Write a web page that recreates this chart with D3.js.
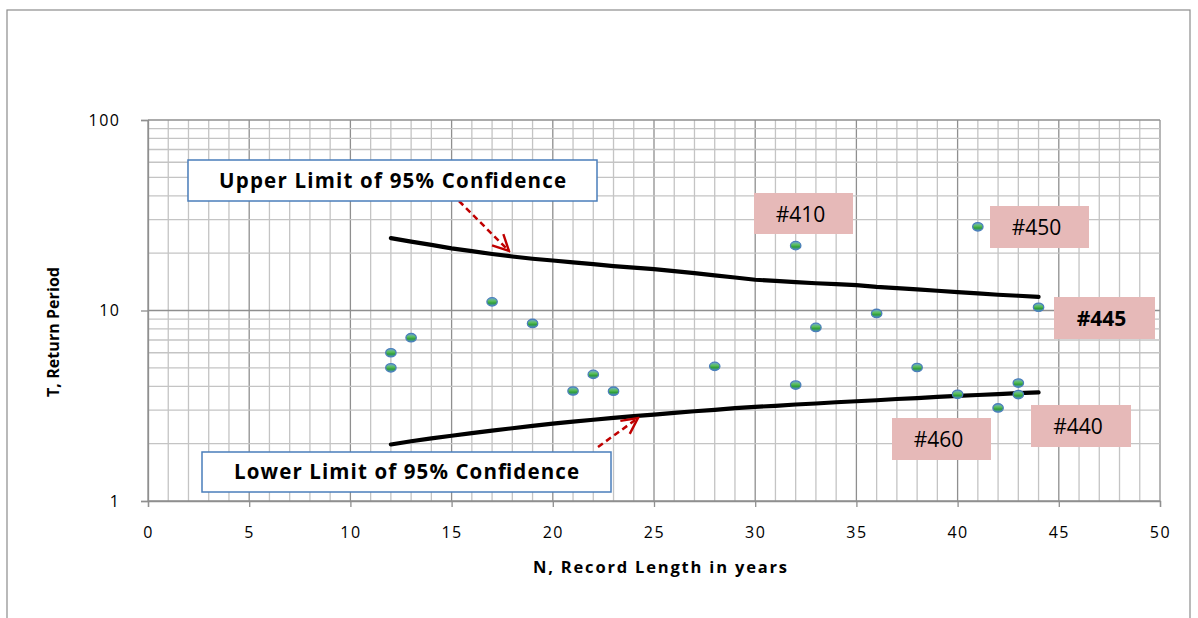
<!DOCTYPE html>
<html>
<head>
<meta charset="utf-8">
<script src="https://cdn.jsdelivr.net/npm/d3@7"></script>
<style>
  body { margin: 0; background: #fff; }
  svg text { font-family: "Open Sans", Lato, sans-serif; }
</style>
</head>
<body>
<div id="box"></div>
<script>
// observed record length vs return period
var obsN = [12, 12, 13, 17, 19, 21, 22, 23, 28, 32, 32, 33, 36, 38, 40, 41, 42, 43, 43, 44];
var obsT = [6.0, 5.0, 7.2, 11.1, 8.55, 3.78, 4.62, 3.77, 5.09, 21.9, 4.06, 8.15, 9.65, 5.02, 3.63, 27.5, 3.08, 4.16, 3.62, 10.4];

// confidence limit curves, one value per year of record
var limitN = [12, 13, 14, 15, 16, 17, 18, 19, 20, 21, 22, 23, 24, 25, 26, 27, 28, 29, 30, 31, 32, 33, 34, 35, 36, 37, 38, 39, 40, 41, 42, 43, 44];
var upperT = [24.0, 23.0, 22.1, 21.2, 20.5, 19.8, 19.2, 18.7, 18.3, 17.9, 17.5, 17.1, 16.8, 16.5, 16.1, 15.7, 15.3, 14.9, 14.5, 14.3, 14.1, 13.9, 13.75, 13.6, 13.3, 13.1, 12.9, 12.7, 12.5, 12.3, 12.1, 11.95, 11.8];
var lowerT = [1.98, 2.06, 2.13, 2.20, 2.27, 2.34, 2.41, 2.48, 2.55, 2.61, 2.67, 2.73, 2.79, 2.84, 2.90, 2.96, 3.01, 3.07, 3.12, 3.16, 3.21, 3.25, 3.30, 3.34, 3.38, 3.43, 3.47, 3.52, 3.56, 3.60, 3.64, 3.68, 3.72];

var xTicks = [0, 5, 10, 15, 20, 25, 30, 35, 40, 45, 50];
var yTicks = [1, 10, 100];

var svg = d3.select("#box").append("svg")
    .attr("width", 1198)
    .attr("height", 618);

// chart frame
svg.append("rect")
    .attr("x", 7).attr("y", 10)
    .attr("width", 1183).attr("height", 640)
    .attr("fill", "none")
    .attr("stroke", "#8c8c8c")
    .attr("stroke-width", 1.2);

var x = d3.scaleLinear().domain([0, 50]).range([148, 1160]);
var y = d3.scaleLog().domain([1, 100]).range([501, 120]);

// grid
var grid = svg.append("g");
grid.selectAll(".vgrid")
    .data(d3.range(0, 51))
    .enter().append("line")
    .attr("x1", function(d) { return x(d); })
    .attr("x2", function(d) { return x(d); })
    .attr("y1", y(100)).attr("y2", y(1))
    .attr("stroke", function(d) { return d % 5 === 0 ? "#8f8f8f" : "#c4c4c4"; })
    .attr("stroke-width", 1.3);

grid.selectAll(".hgrid")
    .data(y.ticks())
    .enter().append("line")
    .attr("x1", x(0)).attr("x2", x(50))
    .attr("y1", function(d) { return y(d); })
    .attr("y2", function(d) { return y(d); })
    .attr("stroke", function(d) { return yTicks.indexOf(d) >= 0 ? "#8f8f8f" : "#c4c4c4"; })
    .attr("stroke-width", 1.3);

// axes
var xAxis = svg.append("g")
    .attr("transform", "translate(0," + y(1) + ")")
    .call(d3.axisBottom(x).tickValues(xTicks).tickSize(6).tickPadding(20).tickFormat(d3.format("d")));
var yAxis = svg.append("g")
    .attr("transform", "translate(" + x(0) + ",0)")
    .call(d3.axisLeft(y).tickValues(yTicks).tickSize(7).tickPadding(22).tickFormat(d3.format("d")));
[xAxis, yAxis].forEach(function(a) {
    a.select(".domain").attr("stroke", "#8f8f8f").attr("stroke-width", 1.3);
    a.selectAll(".tick line").attr("stroke", "#8f8f8f").attr("stroke-width", 1.3);
    a.selectAll(".tick text")
        .attr("fill", "#000")
        .style("font-family", "'Open Sans', sans-serif")
        .style("font-size", "16px")
        .style("letter-spacing", "1.5px");
});
yAxis.selectAll(".tick text").attr("dx", "1.5px");

// axis titles
svg.append("text")
    .attr("x", 660).attr("y", 573)
    .attr("text-anchor", "middle")
    .attr("textLength", 254)
    .style("font-size", "16.5px").style("font-weight", "bold")
    .text("N, Record  Length in years");
svg.append("text")
    .attr("transform", "translate(59,332) rotate(-90)")
    .attr("text-anchor", "middle")
    .attr("textLength", 130)
    .style("font-size", "16px").style("font-weight", "bold")
    .text("T, Return Period");

// limit curves
var line = d3.line()
    .x(function(d) { return x(d[0]); })
    .y(function(d) { return y(d[1]); });
[upperT, lowerT].forEach(function(series) {
    svg.append("path")
        .datum(limitN.map(function(n, i) { return [n, series[i]]; }))
        .attr("d", line)
        .attr("fill", "none")
        .attr("stroke", "#000")
        .attr("stroke-width", 4.2)
        .attr("stroke-linecap", "round");
});

// marker gradient
var defs = svg.append("defs");
var grad = defs.append("linearGradient")
    .attr("id", "dot").attr("x1", 0).attr("y1", 0).attr("x2", 0).attr("y2", 1);
grad.append("stop").attr("offset", "0%").attr("stop-color", "#6fa8dc");
grad.append("stop").attr("offset", "40%").attr("stop-color", "#5cbf5c");
grad.append("stop").attr("offset", "65%").attr("stop-color", "#2f9e3a");
grad.append("stop").attr("offset", "100%").attr("stop-color", "#4f8fcf");

svg.selectAll(".pt")
    .data(obsN.map(function(n, i) { return [n, obsT[i]]; }))
    .enter().append("ellipse")
    .attr("cx", function(d) { return x(d[0]); })
    .attr("cy", function(d) { return y(d[1]); })
    .attr("rx", 5.2).attr("ry", 4.2)
    .attr("fill", "url(#dot)")
    .attr("stroke", "#4a7ebb")
    .attr("stroke-width", 1.3);

// red dashed arrows
defs.append("marker")
    .attr("id", "arrow")
    .attr("viewBox", "0 0 10 10")
    .attr("refX", 9).attr("refY", 5)
    .attr("markerWidth", 8).attr("markerHeight", 8)
    .attr("markerUnits", "strokeWidth")
    .attr("orient", "auto")
    .append("path")
    .attr("d", "M1,1 L9,5 L1,9")
    .attr("fill", "none")
    .attr("stroke", "#c00000")
    .attr("stroke-width", 1.2);

var arrows = [
    { x1: 459, y1: 201, x2: 509, y2: 251 },
    { x1: 598, y1: 447, x2: 638, y2: 418 }
];
svg.selectAll(".arrow")
    .data(arrows)
    .enter().append("line")
    .attr("x1", function(d) { return d.x1; })
    .attr("y1", function(d) { return d.y1; })
    .attr("x2", function(d) { return d.x2; })
    .attr("y2", function(d) { return d.y2; })
    .attr("stroke", "#c00000")
    .attr("stroke-width", 2.5)
    .attr("stroke-dasharray", "6,4")
    .attr("marker-end", "url(#arrow)");

// callout boxes
var callouts = [
    { text: "Upper Limit of 95% Confidence", x: 188, y: 160, w: 409, h: 41, len: 347 },
    { text: "Lower Limit of 95% Confidence", x: 202, y: 452, w: 409, h: 40, len: 345 }
];
var cg = svg.selectAll(".callout").data(callouts).enter().append("g");
cg.append("rect")
    .attr("x", function(d) { return d.x; })
    .attr("y", function(d) { return d.y; })
    .attr("width", function(d) { return d.w; })
    .attr("height", function(d) { return d.h; })
    .attr("fill", "#fff")
    .attr("stroke", "#4a7ebb")
    .attr("stroke-width", 1.5);
cg.append("text")
    .attr("x", function(d) { return d.x + d.w / 2; })
    .attr("y", function(d) { return d.y + d.h / 2 + 7; })
    .attr("text-anchor", "middle")
    .attr("textLength", function(d) { return d.len; })
    .style("font-size", "20.5px").style("font-weight", "bold")
    .text(function(d) { return d.text; });

// station labels
var tags = [
    { text: "#410", x: 754, y: 193, w: 99, h: 41, bold: false },
    { text: "#450", x: 990, y: 206, w: 99, h: 42, bold: false },
    { text: "#445", x: 1054, y: 297, w: 101, h: 42, bold: true },
    { text: "#460", x: 892, y: 418, w: 99, h: 42, bold: false },
    { text: "#440", x: 1031, y: 405, w: 100, h: 42, bold: false }
];
var tg = svg.selectAll(".tag").data(tags).enter().append("g");
tg.append("rect")
    .attr("x", function(d) { return d.x; })
    .attr("y", function(d) { return d.y; })
    .attr("width", function(d) { return d.w; })
    .attr("height", function(d) { return d.h; })
    .attr("fill", "#e6b9b8");
tg.append("text")
    .attr("x", function(d) { return d.x + d.w / 2 - 3; })
    .attr("y", function(d) { return d.y + d.h / 2 + 8; })
    .attr("text-anchor", "middle")
    .style("font-size", "21px")
    .style("font-weight", function(d) { return d.bold ? "bold" : "normal"; })
    .text(function(d) { return d.text; });
</script>
</body>
</html>
